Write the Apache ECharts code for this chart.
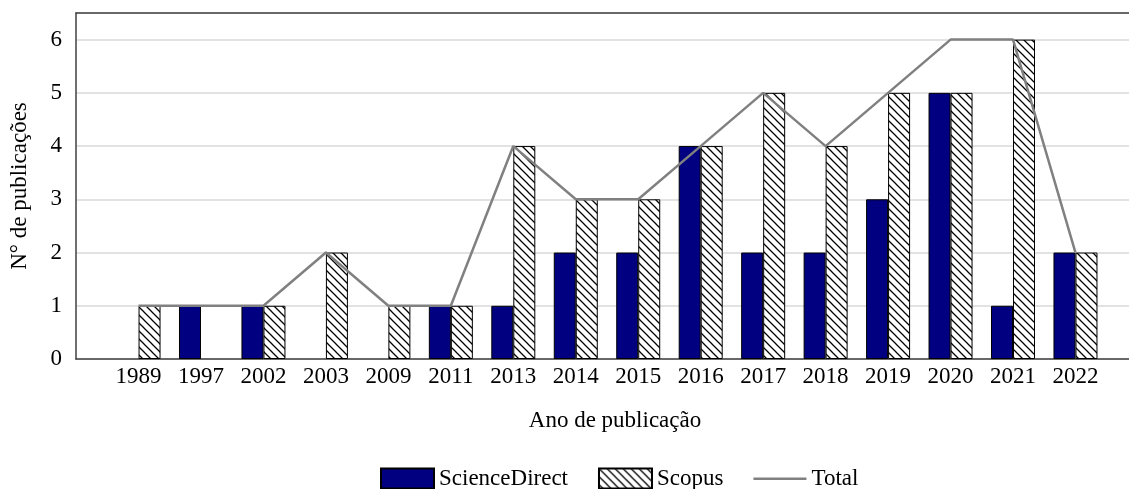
<!DOCTYPE html>
<html>
<head>
<meta charset="utf-8">
<script src="https://cdn.jsdelivr.net/npm/echarts@6/dist/echarts.min.js"></script>
<style>
html,body{margin:0;padding:0;background:#fff;}
#chart{width:1129px;height:489px;}
</style>
</head>
<body>
<div id="chart"></div>
<script>
var years = ['1989','1997','2002','2003','2009','2011','2013','2014','2015','2016','2017','2018','2019','2020','2021','2022'];
var scienceDirect = [0,1,1,0,0,1,1,2,2,4,2,2,3,5,1,2];
var scopus = [1,0,1,2,1,1,4,3,3,4,5,4,5,5,6,2];
var total = [1,1,1,2,1,1,4,3,3,4,5,4,5,6,6,2];

var FONT = 'Liberation Serif';
var FS = 23;

function hideZero(arr) { return arr.map(function (v) { return v === 0 ? '-' : v; }); }

var pc = document.createElement('canvas');
pc.width = 8; pc.height = 8;
var ctx = pc.getContext('2d');
ctx.fillStyle = '#ffffff';
ctx.fillRect(0,0,8,8);
ctx.strokeStyle = '#000000';
ctx.lineWidth = 1.25;
ctx.beginPath();
ctx.moveTo(-1,-1); ctx.lineTo(9,9);
ctx.moveTo(-1,7); ctx.lineTo(1,9);
ctx.moveTo(7,-1); ctx.lineTo(9,1);
ctx.stroke();

var lineIcon = 'path://M0,0 L0.01,0 L0,0.01 Z M0,9 L53,9 L53,11.5 L0,11.5 Z M0,20 L0.01,20 L0,19.99 Z';

var chart = echarts.init(document.getElementById('chart'));
chart.setOption({
  animation: false,
  backgroundColor: '#ffffff',
  textStyle: {fontFamily: FONT},
  grid: [
    {left: 107.3, right: 22.3, top: 13, bottom: 130, outerBoundsMode: 'none', containLabel: false},
    {left: 76, right: -20, top: 13, bottom: 130, outerBoundsMode: 'none', containLabel: false}
  ],
  legend: {
    left: 375, top: 462,
    itemWidth: 53, itemHeight: 20, itemGap: 30,
    textStyle: {fontFamily: FONT, fontSize: FS, color: '#000'},
    data: [
      {name: 'ScienceDirect', icon: 'rect'},
      {name: 'Scopus', icon: 'rect'},
      {name: 'Total', icon: lineIcon, itemStyle: {color: '#808080', borderWidth: 0}}
    ]
  },
  xAxis: [
    {
      gridIndex: 0, type: 'category', data: years,
      axisLine: {show: false}, axisTick: {show: false},
      axisLabel: {fontFamily: FONT, fontSize: FS, color: '#000', margin: 6},
      name: 'Ano de publicação', nameLocation: 'middle', nameGap: 50,
      nameTextStyle: {fontFamily: FONT, fontSize: FS, color: '#000', padding: [0,0,0,16]}
    },
    {
      gridIndex: 1, type: 'value', min: 0, max: 1, position: 'bottom',
      axisLine: {show: true, lineStyle: {color: '#404040', width: 1.5}},
      axisTick: {show: false}, axisLabel: {show: false}, splitLine: {show: false}
    },
    {
      gridIndex: 1, type: 'value', min: 0, max: 1, position: 'top',
      axisLine: {show: true, onZero: false, lineStyle: {color: '#404040', width: 1.5}},
      axisTick: {show: false}, axisLabel: {show: false}, splitLine: {show: false}
    }
  ],
  yAxis: [
    {gridIndex: 0, type: 'value', min: 0, max: 6.5, show: false},
    {
      gridIndex: 1, type: 'value', min: 0, max: 6.5, interval: 1,
      axisLine: {show: true, lineStyle: {color: '#404040', width: 1.5}},
      axisTick: {show: false},
      axisLabel: {
        fontFamily: FONT, fontSize: FS, color: '#000', margin: 14,
        formatter: function (v) { return Number.isInteger(v) ? String(v) : ''; }
      },
      splitLine: {show: true, lineStyle: {color: '#d9d9d9', width: 1.5}},
      name: 'N° de publicações', nameLocation: 'middle', nameGap: 45,
      nameTextStyle: {fontFamily: FONT, fontSize: FS, color: '#000'}
    }
  ],
  series: [
    {
      name: 'ScienceDirect', type: 'bar', xAxisIndex: 0, yAxisIndex: 0,
      data: hideZero(scienceDirect), barWidth: 22, barGap: '0%',
      itemStyle: {color: '#000080', borderColor: '#000000', borderWidth: 1}
    },
    {
      name: 'Scopus', type: 'bar', xAxisIndex: 0, yAxisIndex: 0,
      data: hideZero(scopus), barWidth: 22, barGap: '0%',
      itemStyle: {color: {image: pc, repeat: 'repeat'}, borderColor: '#000000', borderWidth: 1}
    },
    {
      name: 'Total', type: 'line', xAxisIndex: 0, yAxisIndex: 0,
      data: total, symbol: 'none', z: 5,
      lineStyle: {color: '#808080', width: 2.5},
      itemStyle: {color: '#808080'}
    }
  ]
});
</script>
</body>
</html>
